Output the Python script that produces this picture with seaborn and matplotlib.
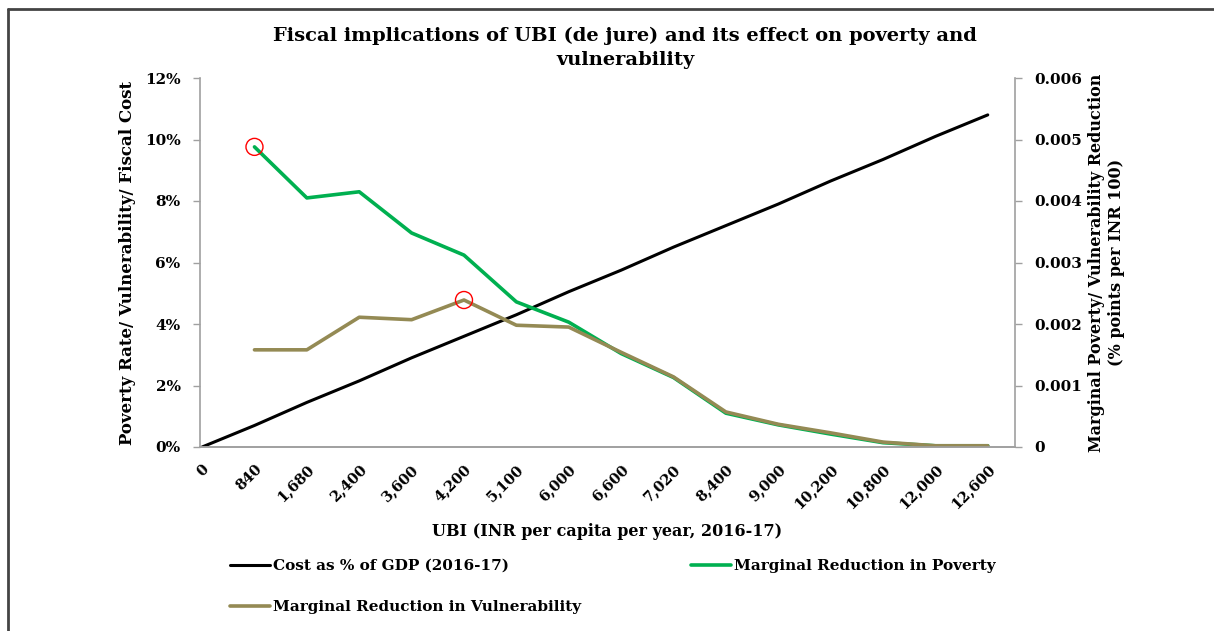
import numpy as np
import pandas as pd
import matplotlib
matplotlib.use("Agg")
import matplotlib.pyplot as plt
import seaborn as sns
from matplotlib.lines import Line2D

# UBI amounts (INR per capita per year, 2016-17)
ubi = ["0", "840", "1,680", "2,400", "3,600", "4,200", "5,100", "6,000",
       "6,600", "7,020", "8,400", "9,000", "10,200", "10,800", "12,000", "12,600"]
# cost as % of GDP (left axis, %)
cost = [0, 0.7, 1.45, 2.15, 2.9, 3.6, 4.3, 5.05, 5.75, 6.5, 7.2, 7.9, 8.65, 9.35, 10.1, 10.8]
# marginal reductions (right axis, % points per INR 100)
poverty = [np.nan, 0.00488, 0.00405, 0.00415, 0.00348, 0.00312, 0.00236, 0.00203,
           0.00152, 0.00113, 0.00055, 0.00036, 0.00021, 0.00007, 0.00002, 0.00002]
vuln = [np.nan, 0.00158, 0.00158, 0.00211, 0.00207, 0.00239, 0.00198, 0.00195,
        0.00154, 0.00114, 0.00057, 0.00037, 0.00023, 0.00008, 0.00002, 0.00002]

df = pd.DataFrame({"pos": range(len(ubi)), "cost": cost,
                   "poverty": poverty, "vuln": vuln})

sns.set_style("white")
plt.rcParams['font.family'] = ['DejaVu Serif']
plt.rcParams['font.weight'] = 'bold'
plt.rcParams['axes.labelweight'] = 'bold'
plt.rcParams['text.color'] = 'black'
plt.rcParams['axes.labelcolor'] = 'black'
plt.rcParams['xtick.color'] = 'black'
plt.rcParams['ytick.color'] = 'black'

green = "#00B050"
olive = "#948A54"
grey = "#A0A0A0"

W, H = 1214, 631
fig = plt.figure(figsize=(W / 100, H / 100), dpi=100)
ax = fig.add_axes([200 / W, 1 - 447 / H, (1015 - 200) / W, (447 - 78) / H])
ax2 = ax.twinx()

sns.lineplot(data=df, x="pos", y="cost", ax=ax, color="black", lw=2.2, legend=False)
sns.lineplot(data=df, x="pos", y="poverty", ax=ax2, color=green, lw=2.6, legend=False)
sns.lineplot(data=df, x="pos", y="vuln", ax=ax2, color=olive, lw=2.6, legend=False)

# highlighted points
ax2.scatter([1], [poverty[1]], s=150, facecolors="none", edgecolors="red", lw=1.0, zorder=5)
ax2.scatter([5], [vuln[5]], s=150, facecolors="none", edgecolors="red", lw=1.0, zorder=5)

ax.set_xlim(-0.04, 15.52)
ax.set_ylim(0, 12)
ax2.set_ylim(0, 0.006)

ax.set_xticks(range(len(ubi)))
ax.set_xticklabels(ubi, rotation=45, ha="right", rotation_mode="anchor", fontsize=10.5)
ax.set_yticks(range(0, 13, 2))
ax.set_yticklabels([f"{v}%" for v in range(0, 13, 2)], fontsize=11)
r_ticks = [0, 0.001, 0.002, 0.003, 0.004, 0.005, 0.006]
ax2.set_yticks(r_ticks)
ax2.set_yticklabels(["0"] + [f"{v:.3f}" for v in r_ticks[1:]], fontsize=11)

for a in (ax, ax2):
    a.spines["top"].set_visible(False)
    for s in ("left", "right", "bottom"):
        a.spines[s].set_color(grey)
        a.spines[s].set_linewidth(1.2)
    a.tick_params(axis="both", direction="out", length=5, width=1, color=grey, pad=9)
ax.spines["right"].set_visible(False)
ax2.spines["left"].set_visible(False)
ax.tick_params(axis="x", pad=6)

ax.set_xlabel("UBI (INR per capita per year, 2016-17)", fontsize=11.5)
ax.xaxis.set_label_coords(0.5, -0.207)
ax.set_ylabel("Poverty Rate/ Vulnerability/ Fiscal Cost", fontsize=12, labelpad=6)
ax2.set_ylabel("Marginal Poverty/ Vulnerability Reduction\n(% points per INR 100)",
               fontsize=11.5, rotation=90, labelpad=4, linespacing=1.25)

fig.suptitle("Fiscal implications of UBI (de jure) and its effect on poverty and\nvulnerability",
             x=625 / W, y=1 - 27 / H, va="top", fontsize=14, fontweight="bold", linespacing=1.4)

handles = [Line2D([], [], color="black", lw=2.2),
           Line2D([], [], color=olive, lw=2.6),
           Line2D([], [], color=green, lw=2.6)]
labels = ["Cost as % of GDP (2016-17)", "Marginal Reduction in Vulnerability",
          "Marginal Reduction in Poverty"]
fig.legend(handles, labels, ncol=2, loc="upper left",
           bbox_to_anchor=(224 / W, 1 - 553 / H), frameon=False, fontsize=11,
           handlelength=2.6, handletextpad=0.2, columnspacing=7.2,
           labelspacing=1.75, borderaxespad=0)

# outer frame (top and left edges of the chart box)
fig.add_artist(Line2D([7.5 / W, 7.5 / W], [0, 1 - 8.5 / H], color="#444444", lw=2,
                      transform=fig.transFigure))
fig.add_artist(Line2D([7.5 / W, 1], [1 - 8.5 / H, 1 - 8.5 / H], color="#444444", lw=2,
                      transform=fig.transFigure))

fig.savefig("out.png", dpi=100)
